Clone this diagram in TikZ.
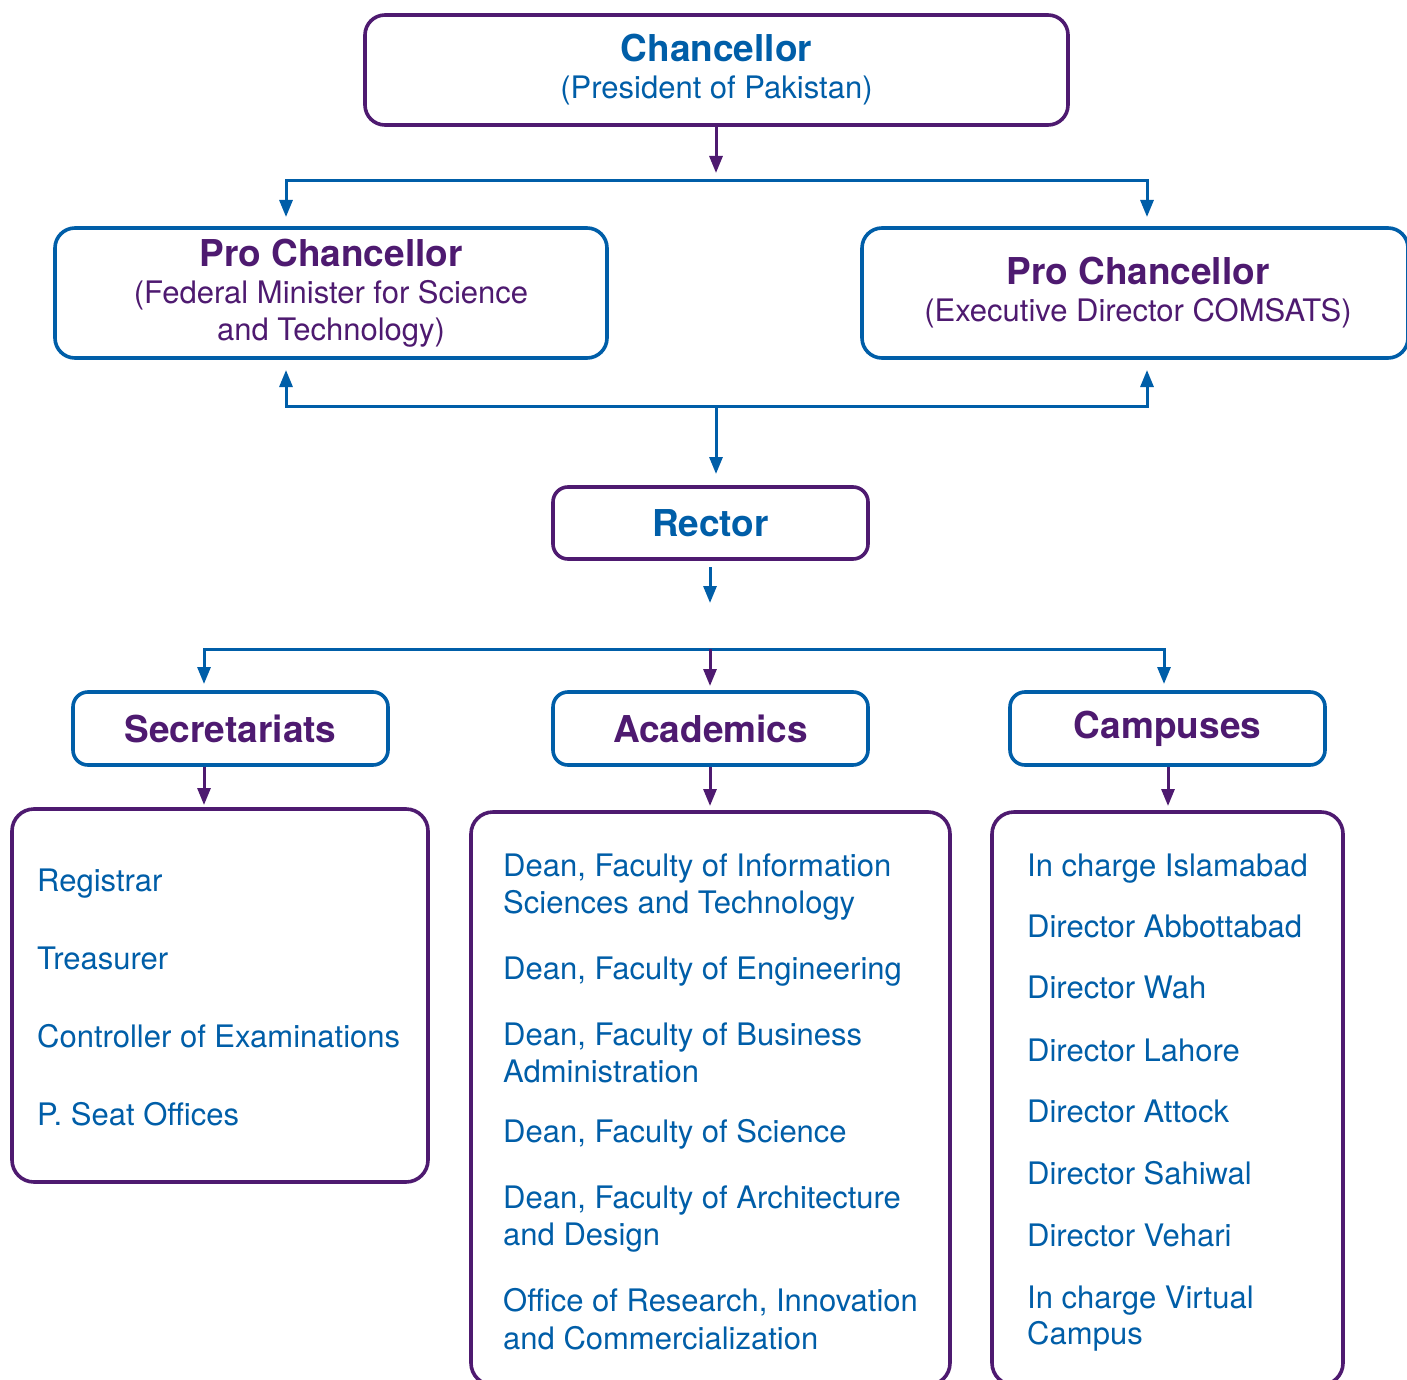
\documentclass[tikz,border=0pt]{standalone}
\usepackage{fontspec}
\setmainfont{TeX Gyre Heros}
\usetikzlibrary{arrows.meta}
\definecolor{cblue}{RGB}{0,94,168}
\definecolor{cpurp}{RGB}{78,26,112}
\newcommand\headtxt[1]{{\fontsize{37}{37}\selectfont\bfseries #1}}
\begin{document}
\begin{tikzpicture}[x=1pt,y=-1pt,
  box/.style={draw, rounded corners=20pt, line width=3.6pt, inner sep=0pt, align=center,
    font=\fontsize{31}{37}\selectfont},
  bbox/.style={box, draw=cblue, text=cpurp},
  pbox/.style={box, draw=cpurp, text=cblue},
  conn/.style={line width=3pt, -{Triangle[length=17pt,width=13pt]}},
  bl/.style={conn, draw=cblue},
  pl/.style={conn, draw=cpurp},
  item/.style={anchor=base west, inner sep=0pt, text=cblue, font=\fontsize{31}{37}\selectfont}]
\clip (0,0) rectangle (1407,1380);
\fill[white] (0,0) rectangle (1407,1380);

% top boxes
\node[pbox, minimum width=703pt, minimum height=110pt] (chan) at (716.5,70)
  {\headtxt{Chancellor}\\(President of Pakistan)};
\node[bbox, minimum width=552pt, minimum height=130pt] (pcl) at (331,293)
  {\headtxt{Pro Chancellor}\\(Federal Minister for Science\\and Technology)};
\node[bbox, minimum width=546pt, minimum height=130pt] (pcr) at (1135,293)
  {\hspace*{6pt}\headtxt{Pro Chancellor}\\\hspace*{6pt}(Executive Director COMSATS)};
\node[pbox, minimum width=315pt, minimum height=72pt, rounded corners=15pt] (rec) at (710.5,523)
  {\headtxt{Rector}};

% second level
\node[bbox, minimum width=315pt, minimum height=73pt, rounded corners=15pt] (sec) at (230.5,728.5)
  {\headtxt{Secretariats}};
\node[bbox, minimum width=315pt, minimum height=73pt, rounded corners=15pt] (aca) at (710.5,728.5)
  {\headtxt{Academics}};
\node[bbox, minimum width=315pt, minimum height=73pt, rounded corners=15pt] (cam) at (1167.5,728.5)
  {\headtxt{Campuses}};

% list boxes
\node[pbox, minimum width=416pt, minimum height=373pt, rounded corners=22pt] (secl) at (220,995.5) {};
\node[pbox, minimum width=479pt, minimum height=573pt, rounded corners=22pt] (acal) at (710.5,1098.5) {};
\node[pbox, minimum width=351pt, minimum height=573pt, rounded corners=22pt] (caml) at (1167.5,1098.5) {};

% secretariat items
\node[item] (s1) at (37,891) {Registrar};
\node[item] (s2) at (37,969) {Treasurer};
\node[item] (s3) at (37,1047) {Controller of Examinations};
\node[item] (s4) at (37,1125) {P. Seat Offices};

% academic items
\node[item] (a1a) at (503,876) {Dean, Faculty of Information};
\node[item] (a1b) at (503,913) {Sciences and Technology};
\node[item] (a2) at (503,979) {Dean, Faculty of Engineering};
\node[item] (a3a) at (503,1045) {Dean, Faculty of Business};
\node[item] (a3b) at (503,1082) {Administration};
\node[item] (a4) at (503,1142) {Dean, Faculty of Science};
\node[item] (a5a) at (503,1208) {Dean, Faculty of Architecture};
\node[item] (a5b) at (503,1245) {and Design};
\node[item] (a6a) at (503,1311) {Office of Research, Innovation};
\node[item] (a6b) at (503,1349) {and Commercialization};

% campus items
\node[item] (c1) at (1027,876) {In charge Islamabad};
\node[item] (c2) at (1027,937) {Director Abbottabad};
\node[item] (c3) at (1027,998) {Director Wah};
\node[item] (c4) at (1027,1061) {Director Lahore};
\node[item] (c5) at (1027,1122) {Director Attock};
\node[item] (c6) at (1027,1184) {Director Sahiwal};
\node[item] (c7) at (1027,1246) {Director Vehari};
\node[item] (c8a) at (1027,1308) {In charge Virtual};
\node[item] (c8b) at (1027,1344) {Campus};

% connectors: chancellor to pro chancellors
\coordinate (j0) at (716,173);
\coordinate (j1) at (716,181);
\coordinate (jl) at (286,217);
\coordinate (jr) at (1147,217);
\draw[pl] (chan.south -| j0) -- (j0);
\draw[bl] (j1) -| (jl);
\draw[bl] (j1) -| (jr);

% pro chancellors to rector
\coordinate (k1) at (716,406);
\coordinate (kl) at (286,370);
\coordinate (kr) at (1147,370);
\coordinate (kt) at (716,474);
\draw[bl] (k1) -| (kl);
\draw[bl] (k1) -| (kr);
\draw[bl] (k1) -- (kt);

% rector down
\coordinate (r1) at (710,567);
\coordinate (r2) at (710,603);
\draw[bl] (r1) -- (r2);

% distribution line
\coordinate (m1) at (710,649);
\coordinate (ms) at (204,684);
\coordinate (mc) at (1164,684);
\coordinate (ma) at (710,686);
\draw[bl] (m1) -| (ms);
\draw[bl] (m1) -| (mc);
\draw[pl] (m1) -- (ma);

% boxes to lists
\coordinate (sd) at (204,805);
\coordinate (ad) at (710,806);
\coordinate (cd) at (1168,806);
\draw[pl] (sec.south -| sd) -- (sd);
\draw[pl] (aca.south -| ad) -- (ad);
\draw[pl] (cam.south -| cd) -- (cd);
\end{tikzpicture}
\end{document}
